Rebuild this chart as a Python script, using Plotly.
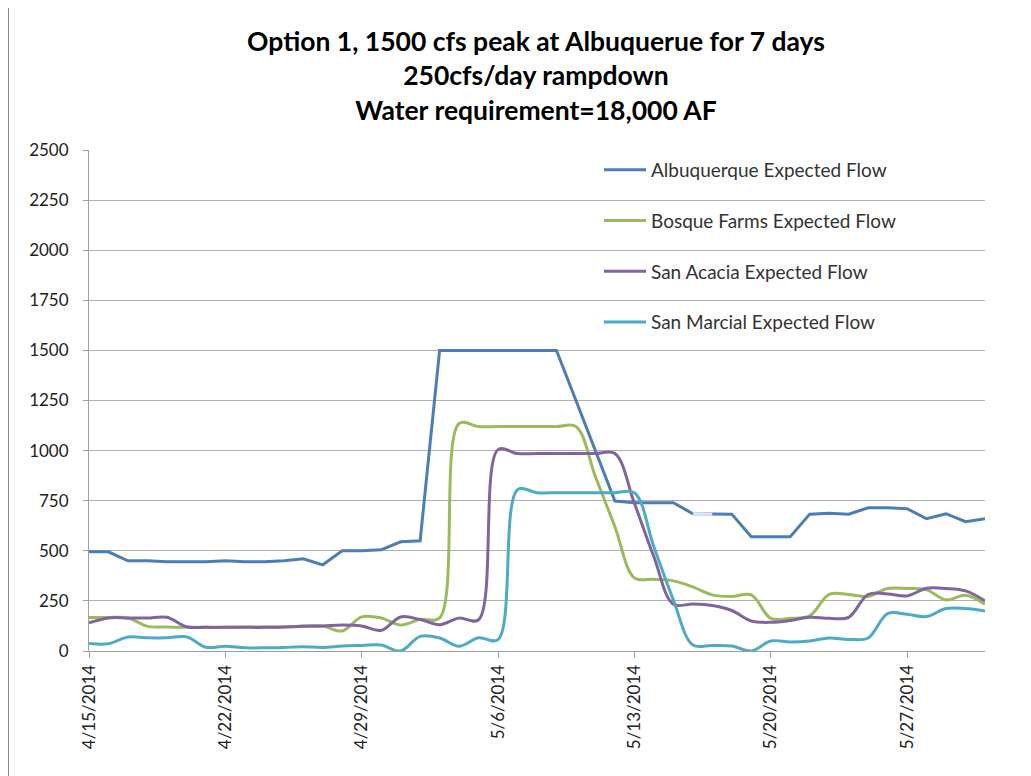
import pandas as pd
import plotly.graph_objects as go

dates = pd.date_range("2014-04-15", "2014-05-31", freq="D")

albuquerque = [495, 495, 450, 450, 445, 445, 445, 450, 445, 445, 450, 460, 430, 500, 500, 505,
               545, 550, 1500, 1500, 1500, 1500, 1500, 1500, 1500, 1250, 1000, 748, 740, 740,
               740, 685, 683, 683, 570, 570, 570, 683, 687, 683, 715, 715, 710, 660, 685, 645, 660]
bosque = [167, 167, 165, 123, 120, 118, 118, 118, 120, 120, 120, 125, 125, 100, 170, 165,
          130, 158, 165, 1135, 1120, 1120, 1120, 1120, 1120, 1120, 870, 620, 365, 358, 350,
          320, 280, 272, 280, 163, 163, 175, 283, 282, 272, 312, 312, 305, 255, 278, 233]
san_acacia = [140, 165, 165, 165, 168, 121, 118, 118, 118, 118, 120, 123, 125, 130, 125, 103,
              170, 157, 131, 164, 156, 1005, 985, 985, 985, 985, 985, 985, 737, 470, 233,
              235, 227, 202, 150, 143, 152, 168, 163, 168, 282, 285, 275, 313, 312, 300, 250]
san_marcial = [37, 36, 70, 66, 66, 71, 19, 24, 16, 16, 18, 21, 18, 25, 28, 30, 0, 73, 65, 24,
               66, 57, 805, 790, 790, 790, 790, 790, 790, 520, 255, 30, 28, 25, 0, 50, 45, 50,
               65, 58, 65, 187, 183, 172, 212, 212, 200]

names = ["Albuquerque Expected Flow", "Bosque Farms Expected Flow",
         "San Acacia Expected Flow", "San Marcial Expected Flow"]
colors = ["#4a7ebb", "#9bbb59", "#8064a2", "#4bacc6"]
shapes_ = ["linear", "spline", "spline", "spline"]
series = [albuquerque, bosque, san_acacia, san_marcial]

y_ticks = list(range(0, 2501, 250))
x_ticks = pd.date_range("2014-04-15", "2014-05-27", freq="7D")
x_tick_labels = [f"{d.month}/{d.day}/{d.year}" for d in x_ticks]

FONT = "Lato, 'Open Sans', sans-serif"

fig = go.Figure()
for i, (nm, col, shp, ys) in enumerate(zip(names, colors, shapes_, series)):
    fig.add_trace(go.Scatter(
        x=dates, y=ys, name=nm, mode="lines",
        line=dict(color=col, width=3, shape=shp, smoothing=1),
        legendgroup=f"g{i}",
    ))

# light highlighted segment on Albuquerque line
fig.add_trace(go.Scatter(
    x=dates[31:33], y=albuquerque[31:33], mode="lines",
    line=dict(color="#dce6f2", width=3), showlegend=False, hoverinfo="skip"))

# page body has an 8px offset; figure coordinates below are screen - 8
OFF = 8
W, H = 1031 - OFF, 776 - OFF
L, R, T, B = 89 - OFF, 985 - OFF, 150 - OFF, 651 - OFF

def px_x(p):
    return (p - OFF - L) / (R - L)

def px_y(p):
    return (B - (p - OFF)) / (B - T)

fig.update_layout(
    width=W, height=H,
    margin=dict(l=L, r=W - R, t=T, b=H - B),
    paper_bgcolor="white", plot_bgcolor="white",
    font=dict(family=FONT, size=17, color="#222222"),
    title=dict(
        text="Option 1, 1500 cfs peak at Albuquerue for 7 days<br>250cfs/day rampdown<br>Water requirement=18,000 AF",
        font=dict(family=FONT, size=26.5, color="black", weight="bold"),
        x=px_x(536), xref="paper", xanchor="center",
        y=1 - (51 - OFF) / H, yref="container", yanchor="middle",
    ),
    legend=dict(
        x=px_x(599), y=px_y(151), xanchor="left", yanchor="top",
        bgcolor="rgba(0,0,0,0)", tracegroupgap=23,
        font=dict(family=FONT, size=19, color="#333333"),
        itemwidth=42,
    ),
    xaxis=dict(
        type="date",
        range=[dates[0], dates[-1]],
        tickmode="array", tickvals=x_ticks, ticktext=x_tick_labels,
        tickangle=-90, ticks="outside", ticklen=6, tickcolor="#a0a0a0",
        showline=True, linecolor="#a0a0a0", linewidth=1,
        showgrid=False, zeroline=False,
        tickfont=dict(family=FONT, size=17, color="#222222"),
    ),
    yaxis=dict(
        range=[0, 2500],
        tickmode="array", tickvals=y_ticks,
        ticks="outside", ticklen=5, tickcolor="#a0a0a0",
        ticklabelstandoff=11,
        showline=True, linecolor="#a0a0a0", linewidth=1,
        showgrid=True, gridcolor="#b0b0b0", gridwidth=1,
        zeroline=False,
        tickfont=dict(family=FONT, size=17, color="#222222"),
    ),
    shapes=[dict(type="line", xref="paper", yref="paper",
                 x0=px_x(8.5), x1=px_x(8.5), y0=px_y(776), y1=px_y(8),
                 line=dict(color="#8c8c8c", width=1))],
    showlegend=True,
)

fig.write_html("out.html")
